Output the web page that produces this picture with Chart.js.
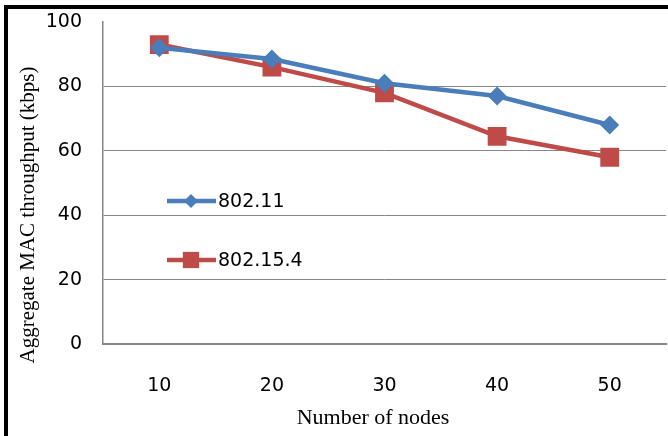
<!DOCTYPE html>
<html>
<head>
<meta charset="utf-8">
<script src="https://cdn.jsdelivr.net/npm/chart.js@4"></script>
<style>
  body { margin: 0; background: #fff; }
  #wrap { position: relative; width: 668px; height: 436px; overflow: hidden; }
  #frame { position: absolute; left: 4px; top: 5px; right: -10px; bottom: -10px; border-left: 4px solid #000; border-top: 4px solid #000; }
  canvas { position: absolute; left: 0; top: 0; }
</style>
</head>
<body>
<div id="wrap">
  <div id="frame"></div>
  <canvas id="chart" width="668" height="436"></canvas>
</div>
<script>
// datos
const nodes = ['10', '20', '30', '40', '50'];
const wifi = [92, 88.5, 81, 77, 68];
const zigbee = [93, 86, 78, 64.5, 58];
const seriesNames = ['802.11', '802.15.4'];
const yTicks = [0, 20, 40, 60, 80, 100];
const yTitle = 'Aggregate MAC throughput (kbps)';
const xTitle = 'Number of nodes';

const blue = '#4a7ebb';
const red = '#be4b48';
const gridGray = '#868686';

// leyenda dentro del area, titulos de los ejes
const extras = {
  id: 'extras',
  afterDraw(chart) {
    const ctx = chart.ctx;
    const items = [
      { name: seriesNames[0], color: blue, style: 'rectRot', radius: 7, y: 201 },
      { name: seriesNames[1], color: red, style: 'rect', radius: 11.5, y: 260 }
    ];
    ctx.save();
    items.forEach(function (it) {
      ctx.strokeStyle = it.color;
      ctx.lineWidth = 4.5;
      ctx.beginPath();
      ctx.moveTo(167, it.y);
      ctx.lineTo(216, it.y);
      ctx.stroke();
      ctx.fillStyle = it.color;
      Chart.helpers.drawPoint(ctx, { pointStyle: it.style, radius: it.radius, borderWidth: 0 }, 191, it.y);
      ctx.fillStyle = '#000';
      ctx.font = '19px "DejaVu Sans"';
      ctx.textAlign = 'left';
      ctx.textBaseline = 'middle';
      ctx.fillText(it.name, 218, it.y + 1);
    });
    ctx.fillStyle = '#000';
    ctx.textAlign = 'center';
    ctx.textBaseline = 'middle';
    ctx.font = '22px "Liberation Serif"';
    ctx.fillText(xTitle, 373, 418);
    ctx.translate(28, 215);
    ctx.rotate(-Math.PI / 2);
    ctx.font = '21px "Liberation Serif"';
    ctx.fillText(yTitle, 0, 0);
    ctx.restore();
  }
};

const chart = new Chart(document.getElementById('chart'), {
  type: 'line',
  data: {
    labels: nodes,
    datasets: [
      {
        label: seriesNames[0],
        data: wifi,
        borderColor: blue,
        backgroundColor: blue,
        borderWidth: 4.5,
        pointStyle: 'rectRot',
        pointRadius: 9.5,
        pointBorderWidth: 0,
        tension: 0
      },
      {
        label: seriesNames[1],
        data: zigbee,
        borderColor: red,
        backgroundColor: red,
        borderWidth: 4.5,
        pointStyle: 'rect',
        pointRadius: 13.3,
        pointBorderWidth: 0,
        tension: 0
      }
    ]
  },
  options: {
    responsive: false,
    animation: false,
    devicePixelRatio: 1,
    layout: { autoPadding: false, padding: { top: 22, right: 2, left: 0, bottom: 0 } },
    plugins: {
      legend: { display: false },
      tooltip: { enabled: false }
    },
    scales: {
      x: {
        type: 'category',
        offset: true,
        grid: { drawOnChartArea: false, drawTicks: false },
        border: { color: gridGray, width: 2 },
        ticks: { color: '#000', padding: 31, font: { family: 'DejaVu Sans', size: 19 } },
        afterFit(scale) {
          scale.height = 92;
          scale.paddingLeft = 0;
          scale.paddingRight = 0;
        }
      },
      y: {
        min: 0,
        max: 100,
        afterBuildTicks(scale) { scale.ticks = yTicks.map(v => ({ value: v })); },
        grid: {
          drawTicks: false,
          color: ctx => (ctx.tick && ctx.tick.value === 100 ? 'rgba(0,0,0,0)' : gridGray)
        },
        border: { color: gridGray, width: 1.5 },
        ticks: { color: '#000', padding: 21, font: { family: 'DejaVu Sans', size: 19 } },
        afterFit(scale) {
          scale.width = 103;
          scale.paddingTop = 0;
          scale.paddingBottom = 0;
        }
      }
    }
  },
  plugins: [extras]
});
</script>
</body>
</html>
